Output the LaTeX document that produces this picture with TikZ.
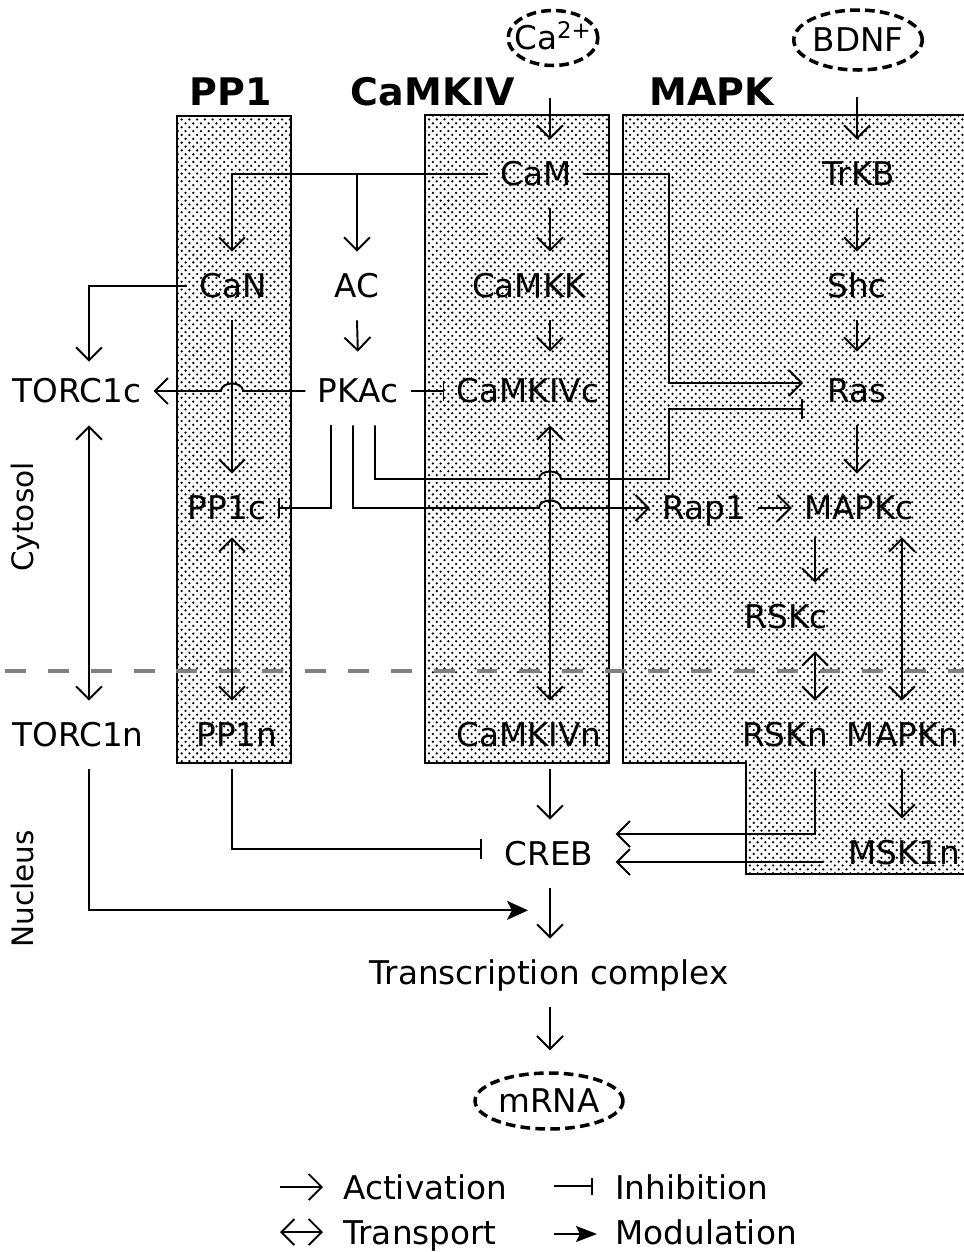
\documentclass[tikz,border=0pt]{standalone}
\usepackage{fontspec}
\setmainfont{DejaVu Sans}
\usetikzlibrary{arrows.meta,shapes.geometric,patterns,calc}
\pgfdeclarepatternformonly{bigdots}{\pgfqpoint{-1pt}{-1pt}}{\pgfqpoint{5.5pt}{5.5pt}}{\pgfqpoint{4.4pt}{4.4pt}}{%
  \pgfpathcircle{\pgfqpoint{0pt}{0pt}}{.72pt}%
  \pgfpathcircle{\pgfqpoint{2.2pt}{2.2pt}}{.72pt}%
  \pgfusepath{fill}}
\newcommand\myfn{\fontsize{18.6pt}{22pt}\selectfont}
\newcommand\mytitlefn{\fontsize{21.6pt}{25pt}\selectfont\bfseries}
\newcommand\mysidefn{\fontsize{16.8pt}{20pt}\selectfont}
\tikzset{
  lbl/.style={font=\myfn, inner xsep=0.24cm, inner ysep=0pt, minimum height=1.36cm, text height=13.6pt, text depth=0pt},
  ttl/.style={font=\mytitlefn, inner sep=0pt, text height=15.7pt, text depth=0pt},
  side/.style={font=\mysidefn, inner sep=0pt, rotate=90, text height=12.3pt, text depth=0pt},
  oval/.style={ellipse, draw, line width=2pt, dash pattern=on 5.5pt off 3pt, font=\myfn, inner ysep=0pt, text height=13.6pt, text depth=0pt},
  legtxt/.style={font=\myfn, anchor=west, inner sep=0pt, text height=13.6pt, text depth=0pt},
  conn/.style={line width=1.1pt},
  act/.style={conn, -{Straight Barb[length=0.26cm,width=0.52cm]}},
  trn/.style={conn, {Straight Barb[length=0.26cm,width=0.52cm]}-{Straight Barb[length=0.26cm,width=0.52cm]}},
  inh/.style={conn, -{Bar[width=0.4cm]}},
  modu/.style={conn, -{Stealth[length=0.42cm,width=0.38cm,inset=0.1cm]}},
  dotfill/.style={pattern=bigdots, pattern color=black},
  region/.style={draw, line width=1pt, dotfill},
}
\begin{document}
\begin{tikzpicture}[x=0.02cm,y=-0.02cm]
\useasboundingbox (0,0) rectangle (964,1252);
% regions
\path[region] (177,116) rectangle (291,763);
\path[region] (425,115) rectangle (609,763);
\fill[dotfill] (966,115) -- (623,115) -- (623,763) -- (746,763) -- (746,874) -- (966,874) -- cycle;
\draw[line width=1pt] (966,115) -- (623,115) -- (623,763) -- (746,763) -- (746,874) -- (966,874);
% membrane
\draw[line width=2.6pt, color=black!50, dash pattern=on 11.9pt off 12.5pt] (5,671) -- (966,671);
% titles and side labels
\node[ttl] (tPP1) at (231,92) {PP1};
\node[ttl] (tCaMKIV) at (433,92) {CaMKIV};
\node[ttl] (tMAPK) at (712,92) {MAPK};
\node[side] (cyto) at (23,517) {Cytosol};
\node[side] (nucl) at (23,889) {Nucleus};
% external signals
\node[oval, inner xsep=-0.14cm, minimum width=1.76cm, minimum height=1.1cm] (Ca) at (553,38) {Ca\textsuperscript{2+}};
\node[oval, inner xsep=0pt, minimum width=2.56cm, minimum height=1.2cm] (BDNF) at (858,40) {BDNF};
\node[oval, inner xsep=0pt, minimum width=2.96cm, minimum height=1.12cm] (mRNA) at (549,1101) {mRNA};
% nodes
\node[lbl] (CaM) at (536,174) {CaM};
\node[lbl] (TrKB) at (859,174) {TrKB};
\node[lbl] (CaN) at (233,286) {CaN};
\node[lbl] (AC) at (357,286) {AC};
\node[lbl] (CaMKK) at (529,286) {CaMKK};
\node[lbl] (Shc) at (857,286) {Shc};
\node[lbl] (TORC1c) at (77,391) {TORC1c};
\node[lbl] (PKAc) at (358,391) {PKAc};
\node[lbl] (CaMKIVc) at (528,391) {CaMKIVc};
\node[lbl] (Ras) at (857,391) {Ras};
\node[lbl] (PP1c) at (227,508) {PP1c};
\node[lbl] (Rap1) at (704,508) {Rap1};
\node[lbl] (MAPKc) at (859,508) {MAPKc};
\node[lbl] (RSKc) at (786,617) {RSKc};
\node[lbl] (TORC1n) at (78,735) {TORC1n};
\node[lbl] (PP1n) at (237,735) {PP1n};
\node[lbl] (CaMKIVn) at (529,735) {CaMKIVn};
\node[lbl] (RSKn) at (785,735) {RSKn};
\node[lbl] (MAPKn) at (903,735) {MAPKn};
\node[lbl] (CREB) at (549,854) {CREB};
\node[lbl] (MSK1n) at (904,853) {MSK1n};
\node[lbl] (TC) at (549,973) {Transcription complex};
% helper coordinates
\coordinate (colT) at (89,0);
\coordinate (colP) at (232,0);
\coordinate (colC) at (550,0);
\coordinate (colR) at (815,0);
\coordinate (colN) at (902,0);
\coordinate (colM) at (857,0);
\coordinate (busR) at (669,0);
\coordinate (hy) at (0,479);
\coordinate (pk1) at ($(PKAc.south)+(-27,0)$);
\coordinate (pk2) at ($(PKAc.south)+(-5,0)$);
\coordinate (pk3) at ($(PKAc.south)+(17,0)$);
\coordinate (rasA) at ($(Ras.west)+(-12,-8)$);
\coordinate (rasI) at ($(Ras.west)+(-12,18)$);
\coordinate (creb1) at ($(CREB.east)+(10,-20)$);
\coordinate (creb2) at ($(CREB.east)+(10,8)$);
\coordinate (crebI) at ($(CREB.west)+(-10,-5)$);
\coordinate (modE) at ($(CREB.south -| colC)+(-22,22)$);
% inputs
\draw[act] ($(Ca.south -| colC)+(0,31)$) -- (CaM.north -| colC);
\draw[act] ($(BDNF.south -| colM)+(0,25)$) -- (TrKB.north -| colM);
% CaM branches
\draw[act] (CaM.south -| colC) -- (CaMKK.north -| colC);
\draw[act] (CaM.west) -- (CaM.west -| colP) -- (CaN.north -| colP);
\draw[act] (CaM.west -| AC.north) -- (AC.north);
\draw[act] (CaM.east) -- (CaM.east -| busR) -- (busR |- rasA) -- (rasA);
% second row
\draw[act] (CaN.west) -- (CaN.west -| colT) -- ($(TORC1c.north -| colT)+(0,5)$);
\draw[act] (CaN.south -| colP) -- (PP1c.north -| colP);
\draw[act, shorten >=0.1cm] (AC.south) -- (PKAc.north);
\draw[act, shorten >=0.1cm] (CaMKK.south -| colC) -- (CaMKIVc.north -| colC);
\draw[act] (TrKB.south -| colM) -- (Shc.north -| colM);
\draw[act, shorten >=0.1cm] (Shc.south -| colM) -- (Ras.north -| colM);
% PKAc
\draw[act] (PKAc.west) -- ($(PKAc.west -| colP)+(11,0)$) .. controls +(0,-10) and +(0,-10) .. ($(PKAc.west -| colP)+(-11,0)$) -- (TORC1c.east);
\draw[inh] (PKAc.east) -- (CaMKIVc.west);
\draw[inh] (pk1) -- (pk1 |- PP1c.east) -- (PP1c.east);
\draw[act] (pk2) -- (pk2 |- Rap1.west) -- ($(colC |- Rap1.west)+(-11,0)$) .. controls +(0,-10) and +(0,-10) .. ($(colC |- Rap1.west)+(11,0)$) -- (Rap1.west);
\draw[inh] (pk3) -- (pk3 |- hy) -- ($(colC |- hy)+(-11,0)$) .. controls +(0,-10) and +(0,-10) .. ($(colC |- hy)+(11,0)$) -- (busR |- hy) -- (busR |- rasI) -- (rasI);
% MAPK cascade
\draw[act] (Ras.south -| colM) -- (MAPKc.north -| colM);
\draw[act] (Rap1.east) -- (MAPKc.west);
\draw[act, shorten <=-0.1cm] (MAPKc.south -| colR) -- (RSKc.north -| colR);
% transport
\draw[trn] (TORC1c.south -| colT) -- (TORC1n.north -| colT);
\draw[trn, shorten <=-0.1cm] (PP1c.south -| colP) -- (PP1n.north -| colP);
\draw[trn] (CaMKIVc.south -| colC) -- (CaMKIVn.north -| colC);
\draw[trn] (RSKc.south -| colR) -- (RSKn.north -| colR);
\draw[trn, shorten <=-0.1cm] (MAPKc.south -| colN) -- (MAPKn.north -| colN);
% nucleus
\draw[act] (CaMKIVn.south -| colC) -- (CREB.north -| colC);
\draw[act] (MAPKn.south -| colN) -- (MSK1n.north -| colN);
\draw[act] (RSKn.south -| colR) -- (colR |- creb1) -- (creb1);
\draw[act] ($(MSK1n.west |- creb2)+(-13,0)$) -- (creb2);
\draw[inh] (PP1n.south -| colP) -- (colP |- crebI) -- (crebI);
\draw[modu] (TORC1n.south -| colT) -- (colT |- modE) -- (modE);
\draw[act] (CREB.south -| colC) -- (TC.north -| colC);
\draw[act, shorten >=0.42cm] (TC.south -| colC) -- (mRNA.north -| colC);
% legend
\coordinate (la1) at (280,1187); \coordinate (la2) at (323,1187);
\coordinate (li1) at (554,1186); \coordinate (li2) at (593,1186);
\coordinate (lt1) at (280,1232); \coordinate (lt2) at (323,1232);
\coordinate (lm1) at (554,1234); \coordinate (lm2) at (597,1234);
\draw[act] (la1) -- (la2);
\draw[conn, -{Bar[width=0.34cm]}] (li1) -- (li2);
\draw[trn] (lt1) -- (lt2);
\draw[conn, -{Stealth[length=0.42cm,width=0.32cm,inset=0.08cm]}] (lm1) -- (lm2);
\node[legtxt] (lgA) at (343,1187.5) {Activation};
\node[legtxt] (lgI) at (615,1187.5) {Inhibition};
\node[legtxt] (lgT) at (343,1233) {Transport};
\node[legtxt] (lgM) at (615,1233) {Modulation};
\end{tikzpicture}
\end{document}
